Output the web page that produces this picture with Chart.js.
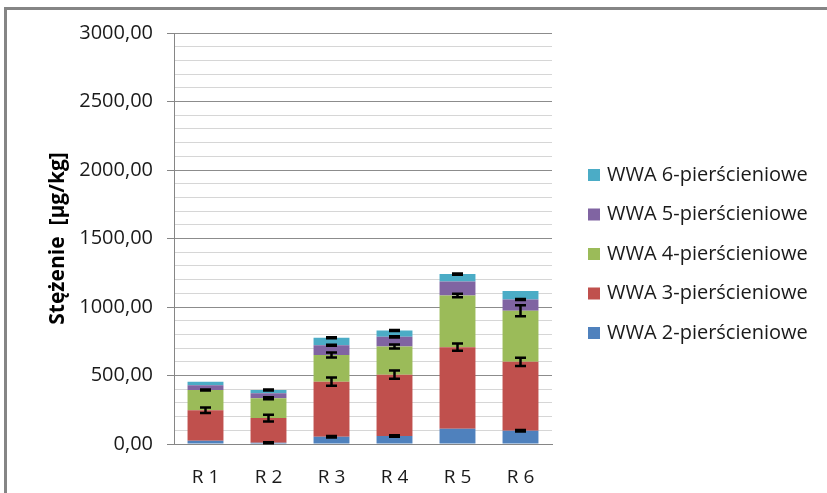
<!DOCTYPE html>
<html>
<head>
<meta charset="utf-8">
<script src="https://cdn.jsdelivr.net/npm/chart.js@4/dist/chart.umd.min.js"></script>
<style>
    html, body { margin: 0; padding: 0; background: #fff; }
    #wrap { position: relative; width: 827px; height: 493px; }
    #frame { position: absolute; left: 4px; top: 7px; right: 0; bottom: 0;
             border-top: 3px solid #858585; border-left: 3px solid #858585; }
    canvas { position: absolute; left: 0; top: 0; }
</style>
</head>
<body>
<div id="wrap">
    <div id="frame"></div>
    <canvas id="chart" width="827" height="493"></canvas>
</div>
<script>
const categories = ['R 1', 'R 2', 'R 3', 'R 4', 'R 5', 'R 6'];

const ring2 = [24, 9, 53, 58, 111, 97];
const ring3 = [223, 180, 402, 448, 596, 503];
const ring4 = [147, 145, 194, 206, 377, 373];
const ring5 = [34, 36, 72, 70, 102, 82];
const ring6 = [27, 24, 54, 46, 54, 61];

// half-width of the error bar drawn at the top of each segment (null = none)
const err2 = [null, 4, 5, 5, null, 5];
const err3 = [20, 24, 30, 30, 27, 30];
const err4 = [4, 8, 18, 15, 13, 40];
const err5 = [null, null, 4, 4, null, 4];
const err6 = [null, 4, 4, 4, 4, null];

const seriesNames = ['WWA 2-pierścieniowe', 'WWA 3-pierścieniowe', 'WWA 4-pierścieniowe',
                     'WWA 5-pierścieniowe', 'WWA 6-pierścieniowe'];
const seriesColors = ['#4f81bd', '#c0504d', '#9bbb59', '#8064a2', '#4bacc6'];

const yMin = 0;
const yMax = 3000;
const yStep = 100;
const yLabelStep = 500;

const FONT = "'Open Sans', sans-serif";

const errorBars = {
    id: 'errorBars',
    afterDatasetsDraw(chart) {
        const { ctx, scales: { y } } = chart;
        ctx.save();
        ctx.strokeStyle = '#000';
        ctx.lineWidth = 2.5;
        chart.data.datasets.forEach((ds, i) => {
            const meta = chart.getDatasetMeta(i);
            ds.errors.forEach((e, j) => {
                if (e === null) return;
                let top = 0;
                for (let k = 0; k <= i; k++) top += chart.data.datasets[k].data[j];
                const x = meta.data[j].x;
                const y1 = y.getPixelForValue(top + e);
                const y2 = y.getPixelForValue(top - e);
                ctx.beginPath();
                ctx.moveTo(x, y1); ctx.lineTo(x, y2);
                ctx.moveTo(x - 5.5, y1); ctx.lineTo(x + 5.5, y1);
                ctx.moveTo(x - 5.5, y2); ctx.lineTo(x + 5.5, y2);
                ctx.stroke();
            });
        });
        ctx.restore();
    }
};

const sideLegend = {
    id: 'sideLegend',
    afterDraw(chart) {
        const { ctx } = chart;
        const items = chart.data.datasets.slice().reverse();
        ctx.save();
        ctx.font = '20px ' + FONT;
        ctx.textBaseline = 'middle';
        items.forEach((ds, k) => {
            const cy = 175 + k * 39.5;
            ctx.fillStyle = ds.backgroundColor;
            ctx.fillRect(588, cy - 6, 12, 12);
            ctx.fillStyle = '#1a1a1a';
            ctx.fillText(ds.label, 607, cy);
        });
        ctx.restore();
    }
};

const ringData = [ring2, ring3, ring4, ring5, ring6];
const ringErrors = [err2, err3, err4, err5, err6];

new Chart(document.getElementById('chart'), {
    type: 'bar',
    data: {
        labels: categories,
        datasets: ringData.map((d, i) => ({
            label: seriesNames[i],
            data: d,
            errors: ringErrors[i],
            backgroundColor: seriesColors[i],
            borderWidth: 0,
            barPercentage: 0.57,
            categoryPercentage: 1,
        })),
    },
    options: {
        responsive: false,
        animation: false,
        layout: { padding: { top: 33, right: 275, left: 0, bottom: 0 } },
        scales: {
            x: {
                stacked: true,
                afterFit: (s) => { s.height = 49; },
                grid: { display: false },
                border: { color: '#868686', width: 1 },
                ticks: { color: '#1a1a1a', font: { family: FONT, size: 19 }, padding: 14 },
            },
            y: {
                stacked: true,
                min: yMin,
                max: yMax,
                afterFit: (s) => { s.width = 174; },
                border: { color: '#868686', width: 1 },
                grid: {
                    color: (c) => (c.tick && c.tick.value % yLabelStep === 0) ? '#8c8c8c' : '#d6d6d6',
                    tickColor: (c) => (c.tick && c.tick.value % yLabelStep === 0) ? '#868686' : 'rgba(0,0,0,0)',
                    tickLength: 7,
                },
                ticks: {
                    stepSize: yStep,
                    autoSkip: false,
                    color: '#1a1a1a',
                    padding: 14,
                    font: { family: FONT, size: 20 },
                    callback: (v) => v % yLabelStep === 0 ? v.toFixed(2).replace('.', ',') : '',
                },
                title: {
                    display: true,
                    text: 'Stężenie  [µg/kg]',
                    color: '#000',
                    font: { family: FONT, size: 21, weight: 'bold' },
                    padding: { top: 45, bottom: 0 },
                },
            },
        },
        plugins: {
            legend: { display: false },
            tooltip: { enabled: false },
        },
    },
    plugins: [errorBars, sideLegend],
});
</script>
</body>
</html>
